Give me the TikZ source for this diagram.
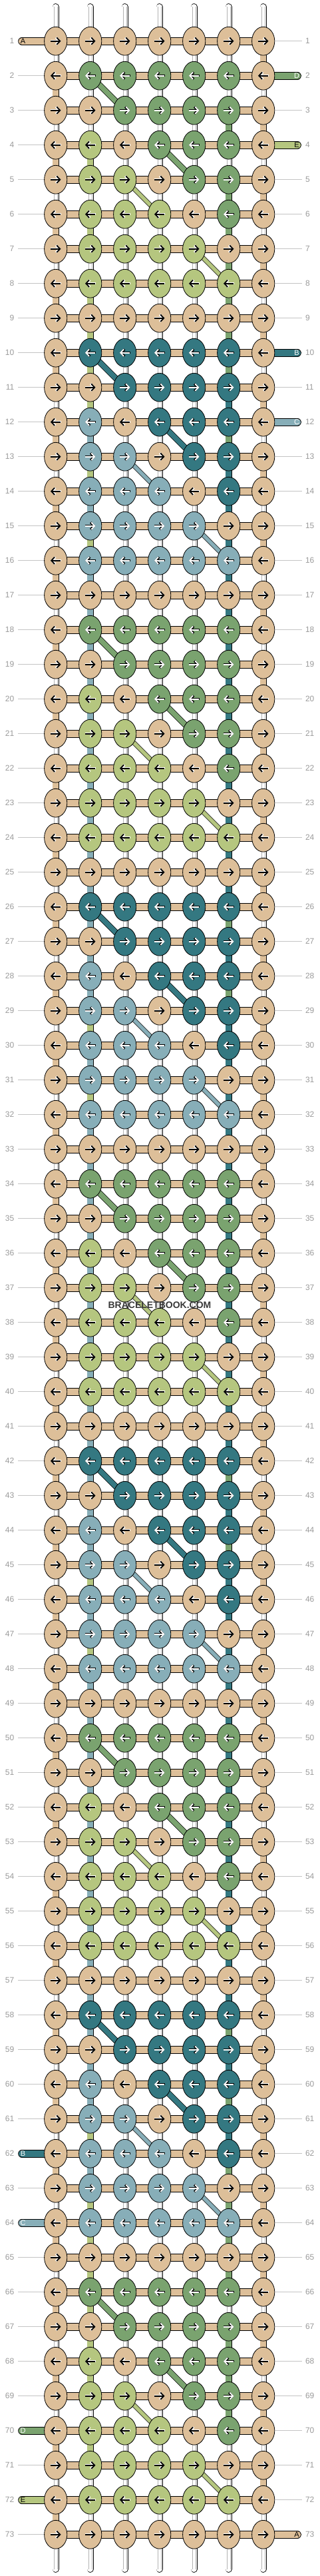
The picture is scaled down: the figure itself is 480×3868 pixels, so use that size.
\documentclass[tikz,border=0pt]{standalone}
\usepackage{fontspec}
\setmainfont{Liberation Sans}
\usetikzlibrary{shapes.geometric,arrows.meta}
\definecolor{cA}{HTML}{DDBF99}
\definecolor{cD}{HTML}{7AA36F}
\definecolor{cE}{HTML}{B5C67F}
\definecolor{cB}{HTML}{347881}
\definecolor{cC}{HTML}{87AEB8}
\definecolor{cW}{HTML}{FFFFFF}
\definecolor{lblgray}{HTML}{9A9A9A}
\definecolor{lnggray}{HTML}{C4C4C4}
\tikzset{
  knot/.style={ellipse, draw=black, line width=0.8pt, minimum width=34.2pt, minimum height=42.8pt, inner sep=0pt},
  rowlbl/.style={font=\fontsize{12}{12}\selectfont, text=lblgray, inner sep=0pt},
  stublbl/.style={font=\fontsize{11}{11}\selectfont, inner sep=0pt},
  tipA/.style={-{Straight Barb[length=5pt,width=10.5pt]}},
}
\newcommand\Vbar[4][butt]{%
  \edef\vbcol{c#4}%
  \draw[line width=10.4pt, line cap=#1] (#2) -- (#3);
  \draw[line width=8.8pt, line cap=#1, color=\vbcol] (#2) -- (#3);
  \if W#4\relax
    \draw[black!30, line width=0.45pt] ([xshift=-2.4pt]#2) -- ([xshift=-2.4pt]#3);
    \draw[black!30, line width=0.45pt] ([xshift=2.4pt]#2) -- ([xshift=2.4pt]#3);
  \fi}
\newcommand\Diag[4]{%
  \edef\dgcol{c#3}%
  \draw[line width=#4pt] (#1) -- (#2);
  \pgfmathsetmacro\dgin{#4-1.5}%
  \draw[line width=\dgin pt, color=\dgcol] (#1) -- (#2);}
\begin{document}
\begin{tikzpicture}[x=1pt,y=-1pt]
\useasboundingbox (0,0) rectangle (480,3868);
% coordinates
\foreach \ri in {1,...,73}{
  \foreach \ci in {1,...,7}{
    \coordinate (p\ri-\ci) at ({83.7+52*(\ci-1)},{61.7+52*(\ri-1)});
  }
}
\foreach \ci in {1,...,7}{
  \coordinate (t\ci) at ({83.7+52*(\ci-1)},10.4);
  \coordinate (u\ci) at ({83.7+52*(\ci-1)},3857.6);
}
% label lines
\foreach \ri in {1,...,73}{
  \coordinate (ll\ri) at (27,{61.7+52*(\ri-1)});
  \coordinate (lr\ri) at (454,{61.7+52*(\ri-1)});
  \draw[lnggray, line width=0.8pt] (ll\ri) -- (p\ri-1);
  \draw[lnggray, line width=0.8pt] (p\ri-7) -- (lr\ri);
}
% top and bottom strands
\foreach \ci in {1,...,7}{
  \Vbar[round]{t\ci}{p1-\ci}{W}
  \Vbar[round]{p73-\ci}{u\ci}{W}
}
% vertical segments
\foreach \ri in {1,...,72}{
  \pgfmathtruncatemacro\rr{\ri+1}
  \ifodd\ri
    \Vbar{p\ri-1}{p\rr-1}{W}\Vbar{p\ri-7}{p\rr-7}{A}
  \else
    \Vbar{p\ri-1}{p\rr-1}{A}\Vbar{p\ri-7}{p\rr-7}{W}
  \fi
  \foreach \ci in {3,4,5}{\Vbar{p\ri-\ci}{p\rr-\ci}{W}}
}
\foreach \cc [count=\ri] in {W,W,W,E,W,E,W,E,E, E,E,C,E,C,E,C,C, C,C,C,C,C,C,C,C, C,C,C,E,C,E,C,C, C,C,C,C,C,C,C,C, C,C,C,E,C,E,C,C, C,C,C,C,C,C,C,C, C,C,C,E,C,E,E,E, E,E,E,W,E,W,W}{
  \pgfmathtruncatemacro\rr{\ri+1}
  \Vbar{p\ri-2}{p\rr-2}{\cc}
}
\foreach \cc [count=\ri] in {W,W,D,W,D,D,D,D,D, D,B,D,B,B,B,B,B, B,B,B,B,B,B,B,B, D,B,D,B,B,B,B,B, B,B,B,B,B,B,B,B, D,B,D,B,B,B,B,B, B,B,B,B,B,B,B,B, D,B,D,B,D,D,D,D, W,D,D,D,W,W,W}{
  \pgfmathtruncatemacro\rr{\ri+1}
  \Vbar{p\ri-6}{p\rr-6}{\cc}
}
% horizontal working strand
\foreach \ri in {1,...,73}{
  \draw[line width=11.6pt] (p\ri-1) -- (p\ri-7);
  \draw[line width=10.2pt, cA] (p\ri-1) -- (p\ri-7);
}
% end stubs
\foreach \ri/\side/\sc/\tc in {1/L/A/black, 2/R/D/white, 4/R/E/black, 10/R/B/white, 12/R/C/white, 62/L/B/white, 64/L/C/white, 70/L/D/white, 72/L/E/black, 73/R/A/black}{
  \if L\side
    \coordinate (st\ri) at (33,{61.7+52*(\ri-1)});
    \draw[line width=11.6pt, line cap=round] (st\ri) -- (p\ri-1);
    \draw[line width=10.2pt, line cap=round, color=c\sc] (st\ri) -- (p\ri-1);
    \node[stublbl, text=\tc] (sl\ri) at ([xshift=1.5pt]st\ri) {\sc};
  \else
    \coordinate (st\ri) at (447,{61.7+52*(\ri-1)});
    \draw[line width=11.6pt, line cap=round] (st\ri) -- (p\ri-7);
    \draw[line width=10.2pt, line cap=round, color=c\sc] (st\ri) -- (p\ri-7);
    \node[stublbl, text=\tc] (sl\ri) at ([xshift=-1pt]st\ri) {\sc};
  \fi
}
% diagonal strands
\foreach \s [count=\i] in {2,10,18,26,34,42,50,58,66}{
  \ifodd\i \def\Xc{D}\def\Yc{E}\else \def\Xc{B}\def\Yc{C}\fi
  \pgfmathtruncatemacro\sa{\s+1}
  \pgfmathtruncatemacro\sb{\s+2}
  \pgfmathtruncatemacro\sc{\s+3}
  \pgfmathtruncatemacro\sd{\s+4}
  \pgfmathtruncatemacro\se{\s+5}
  \pgfmathtruncatemacro\sf{\s+6}
  \Diag{p\s-2}{p\sa-3}{\Xc}{9}
  \Diag{p\sb-4}{p\sc-5}{\Xc}{9}
  \Diag{p\sc-3}{p\sd-4}{\Yc}{7}
  \Diag{p\se-5}{p\sf-6}{\Yc}{7}
}
% knots
\foreach \ri in {1,...,73}{
  \pgfmathtruncatemacro\mrow{mod(\ri-1,8)}
  \pgfmathtruncatemacro\kpos{mod(\ri+6,8)+1}
  \pgfmathtruncatemacro\bidx{div(\ri+6,8)}
  \ifodd\bidx \def\Xc{D}\def\Yc{E}\else \def\Xc{B}\def\Yc{C}\fi
  \foreach \ci in {1,...,7}{
    \def\kcol{A}
    \ifnum\mrow=0 \else
      \ifnum\ci>1 \ifnum\ci<7
        \ifnum\ci<\kpos \edef\kcol{\Yc}\fi
        \ifnum\ci>\kpos \edef\kcol{\Xc}\fi
      \fi\fi
    \fi
    \def\ac{white}\def\oc{black}
    \if A\kcol \def\ac{black}\def\oc{white}\fi
    \if E\kcol \def\ac{black}\def\oc{white}\fi
    \node[knot, fill=c\kcol] (k\ri-\ci) at (p\ri-\ci) {};
    \ifodd\ri
      \draw[line width=3.3pt, \oc, tipA] ([xshift=-8.2pt]k\ri-\ci.center) -- ([xshift=7.8pt]k\ri-\ci.center);
      \draw[line width=1.8pt, \ac, tipA] ([xshift=-7.5pt]k\ri-\ci.center) -- ([xshift=7.8pt]k\ri-\ci.center);
    \else
      \draw[line width=3.3pt, \oc, tipA] ([xshift=8.2pt]k\ri-\ci.center) -- ([xshift=-7.8pt]k\ri-\ci.center);
      \draw[line width=1.8pt, \ac, tipA] ([xshift=7.5pt]k\ri-\ci.center) -- ([xshift=-7.8pt]k\ri-\ci.center);
    \fi
  }
}
% row numbers
\foreach \ri in {1,...,73}{
  \node[rowlbl, anchor=east] (nl\ri) at (21.5,{61.7+52*(\ri-1)}) {\ri};
  \node[rowlbl, anchor=west] (nr\ri) at (458.8,{61.7+52*(\ri-1)}) {\ri};
}
% watermark
\node[font=\bfseries\fontsize{14}{14}\selectfont, text=black!78, inner sep=0pt] (wm) at (240,1959.5) {BRACELETBOOK.COM};
\end{tikzpicture}
\end{document}
